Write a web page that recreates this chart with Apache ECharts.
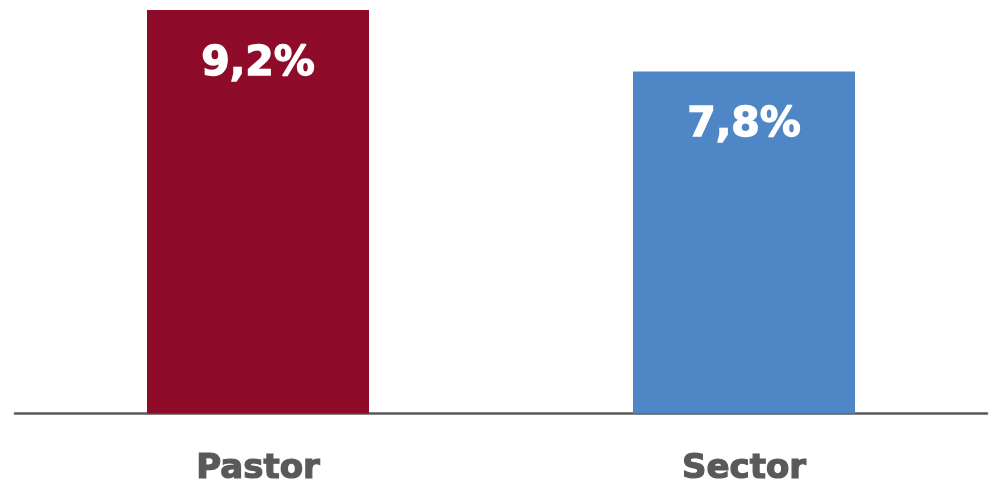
<!DOCTYPE html>
<html>
<head>
<meta charset="utf-8">
<script src="https://cdn.jsdelivr.net/npm/echarts@6/dist/echarts.min.js"></script>
<style>
  html, body { margin: 0; padding: 0; background: #ffffff; }
  #chart { width: 995px; height: 487px; }
</style>
</head>
<body>
<div id="chart"></div>
<script>
// Categories and values (percent)
const categories = ['Pastor', 'Sector'];
const values = [9.2, 7.8];
const valueLabels = ['9,2%', '7,8%'];
const barColors = ['#8E0B2A', '#4F86C6'];

const chart = echarts.init(document.getElementById('chart'), null, { renderer: 'canvas' });

chart.setOption({
  animation: false,
  backgroundColor: '#ffffff',
  grid: { left: 15, right: 8, top: 10, bottom: 72, containLabel: false },
  xAxis: {
    type: 'category',
    data: categories,
    axisLine: { show: true, lineStyle: { color: '#595959', width: 2.5 } },
    axisTick: { show: false },
    axisLabel: {
      margin: 39,
      color: '#595959',
      fontFamily: 'DejaVu Sans',
      fontWeight: 'bold',
      fontSize: 34,
      textBorderColor: '#595959',
      textBorderWidth: 1.2
    }
  },
  yAxis: {
    type: 'value',
    min: 0,
    max: 9.2,
    show: false,
    splitLine: { show: false }
  },
  series: [{
    type: 'bar',
    barWidth: 222,
    data: values.map((v, i) => ({ value: v, itemStyle: { color: barColors[i] } })),
    label: {
      show: true,
      position: ['50%', 54],
      align: 'center',
      verticalAlign: 'middle',
      color: '#ffffff',
      fontFamily: 'DejaVu Sans',
      fontWeight: 'bold',
      fontSize: 41,
      textBorderColor: '#ffffff',
      textBorderWidth: 1.3,
      formatter: p => valueLabels[p.dataIndex]
    }
  }]
});
</script>
</body>
</html>
